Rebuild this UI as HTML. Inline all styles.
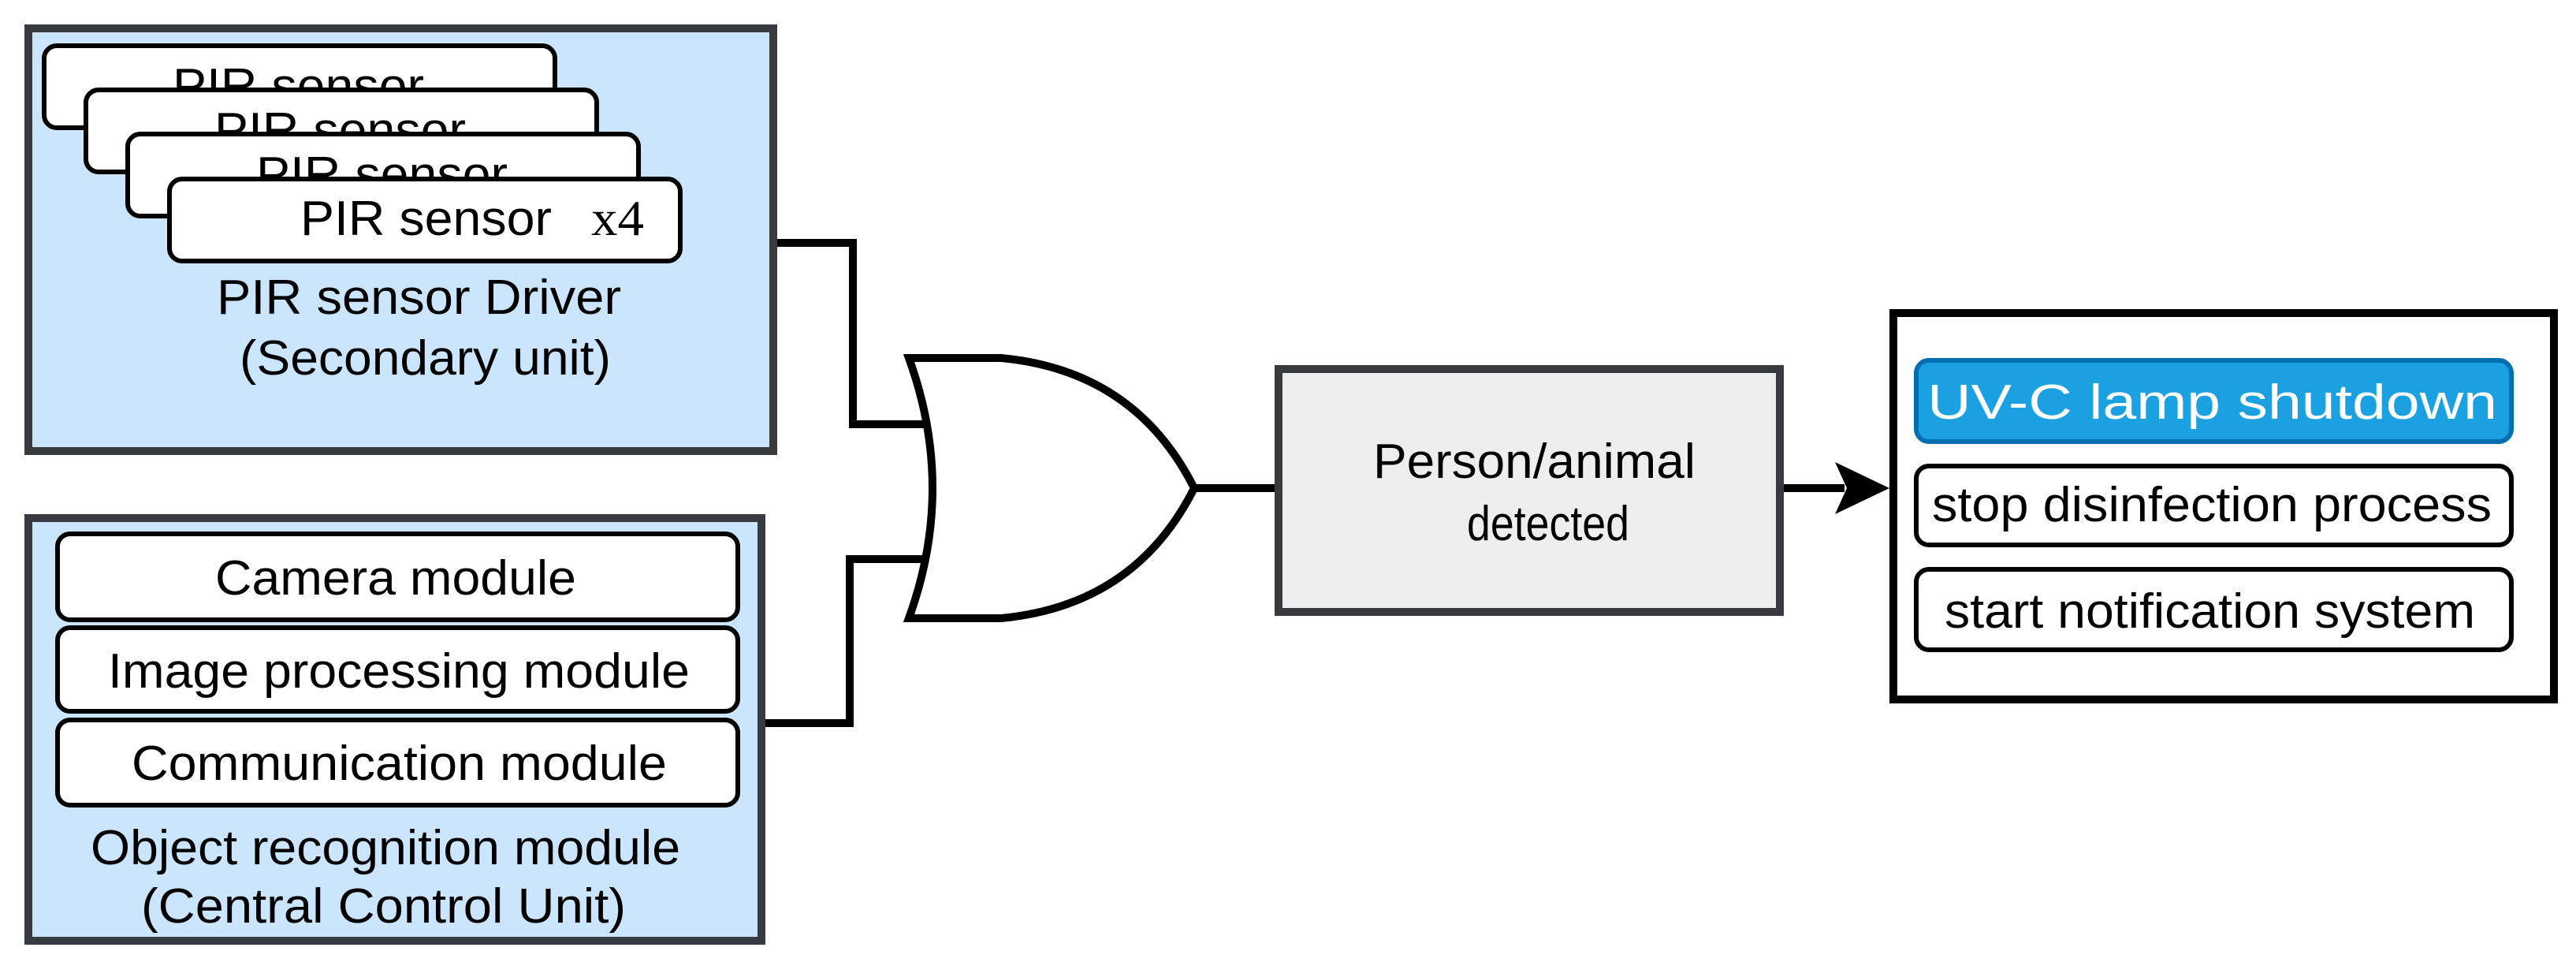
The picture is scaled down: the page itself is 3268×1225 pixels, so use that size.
<!DOCTYPE html>
<html><head><meta charset="utf-8"><style>html,body{margin:0;padding:0;background:#fff}svg{display:block}text{font-family:"Liberation Sans",sans-serif;font-size:62px;fill:#000}</style></head><body>
<svg width="3268" height="1225" viewBox="0 0 3268 1225" xmlns="http://www.w3.org/2000/svg">
<rect width="3268" height="1225" fill="#fff"/>
<rect x="36" y="36" width="945" height="536" fill="#cce5ff" stroke="#373a3f" stroke-width="10"/>
<g stroke="#000" stroke-width="6" fill="#fff">
<rect x="56" y="58" width="648" height="104" rx="16"/>
<text x="219" y="130" textLength="319" lengthAdjust="spacingAndGlyphs" stroke="none" fill="#000">PIR sensor</text>
<rect x="109" y="114" width="648" height="104" rx="16"/>
<text x="272" y="186" textLength="319" lengthAdjust="spacingAndGlyphs" stroke="none" fill="#000">PIR sensor</text>
<rect x="162" y="170" width="648" height="104" rx="16"/>
<text x="325" y="242" textLength="319" lengthAdjust="spacingAndGlyphs" stroke="none" fill="#000">PIR sensor</text>
<rect x="215" y="227" width="648" height="104" rx="16"/>
</g>
<text x="381" y="298" textLength="319" lengthAdjust="spacingAndGlyphs">PIR sensor</text>
<text x="750" y="298" textLength="67" lengthAdjust="spacingAndGlyphs" style="font-family:'Liberation Serif',serif;font-size:64px">x4</text>
<text x="275" y="398" textLength="513" lengthAdjust="spacingAndGlyphs">PIR sensor Driver</text>
<text x="304" y="475" textLength="471" lengthAdjust="spacingAndGlyphs">(Secondary unit)</text>
<rect x="36" y="657" width="930" height="536" fill="#cce5ff" stroke="#373a3f" stroke-width="10"/>
<g stroke="#000" stroke-width="6" fill="#fff">
<rect x="73" y="677" width="863" height="109" rx="16"/>
<rect x="73" y="796" width="863" height="106" rx="16"/>
<rect x="73" y="913" width="863" height="108" rx="16"/>
</g>
<text x="273" y="754" textLength="458" lengthAdjust="spacingAndGlyphs">Camera module</text>
<text x="137" y="872" textLength="738" lengthAdjust="spacingAndGlyphs">Image processing module</text>
<text x="167" y="989" textLength="679" lengthAdjust="spacingAndGlyphs">Communication module</text>
<text x="115" y="1096" textLength="748" lengthAdjust="spacingAndGlyphs">Object recognition module</text>
<text x="179" y="1170" textLength="615" lengthAdjust="spacingAndGlyphs">(Central Control Unit)</text>
<g stroke="#000" stroke-width="10" fill="none">
<polyline points="986,308 1082,308 1082,538 1200,538"/>
<polyline points="971,917 1078,917 1078,709 1200,709"/>
<line x1="1510" y1="619" x2="1617" y2="619"/>
<line x1="2263" y1="619" x2="2340" y2="619"/>
</g>
<path d="M1153,454 L1270,454 Q1440,470 1515,619 Q1440,768 1270,784 L1153,784 Q1213,619 1153,454 Z" fill="#fff" stroke="#000" stroke-width="10"/>
<path d="M2397,619 L2328,586 L2343,619 L2328,652 Z" fill="#000"/>
<rect x="1622" y="468" width="636" height="308" fill="#eeeeee" stroke="#373a3f" stroke-width="10"/>
<text x="1742" y="606" textLength="409" lengthAdjust="spacingAndGlyphs">Person/animal</text>
<text x="1861" y="685" textLength="206" lengthAdjust="spacingAndGlyphs">detected</text>
<rect x="2402" y="397" width="838" height="490" fill="#fff" stroke="#000" stroke-width="10"/>
<rect x="2431" y="457" width="755" height="103" rx="16" fill="#1ba1e2" stroke="#006eaf" stroke-width="6"/>
<text x="2445" y="531" textLength="723" lengthAdjust="spacingAndGlyphs" style="fill:#fff">UV-C lamp shutdown</text>
<rect x="2431" y="591" width="755" height="100" rx="16" fill="#fff" stroke="#000" stroke-width="6"/>
<text x="2451" y="661" textLength="710" lengthAdjust="spacingAndGlyphs">stop disinfection process</text>
<rect x="2431" y="722" width="755" height="102" rx="16" fill="#fff" stroke="#000" stroke-width="6"/>
<text x="2467" y="796" textLength="673" lengthAdjust="spacingAndGlyphs">start notification system</text>
</svg>
</body></html>
